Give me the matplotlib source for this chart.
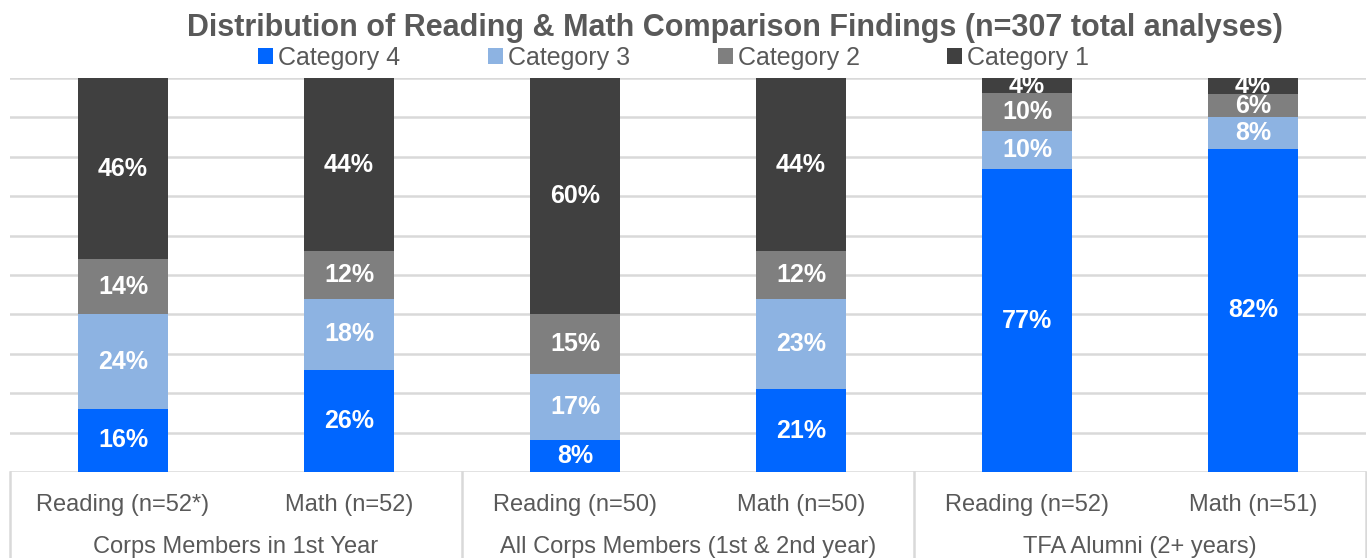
""" Distribution of Reading & Math comparison findings
"""

# Importing the libraries
import matplotlib
matplotlib.use('Agg')
import matplotlib.pyplot as plt
import numpy as np

# Chart data (percent of analyses in each category)
bar_labels = ['Reading (n=52*)', 'Math (n=52)', 'Reading (n=50)', 'Math (n=50)',
              'Reading (n=52)', 'Math (n=51)']
group_labels = ['Corps Members in 1st Year', 'All Corps Members (1st & 2nd year)',
                'TFA Alumni (2+ years)']
series_names = ['Category 4', 'Category 3', 'Category 2', 'Category 1']
category_4 = [16, 26, 8, 21, 76.9, 82]
category_3 = [24, 18, 17, 23, 9.6, 8]
category_2 = [14, 12, 15, 12, 9.6, 6]
category_1 = [46, 44, 60, 44, 3.9, 4]
colors = ['#0066FF', '#8DB3E2', '#7F7F7F', '#404040']


def main():
    plt.rcParams['font.family'] = ['Liberation Sans', 'DejaVu Sans']
    text_grey = '#595959'

    fig = plt.figure(figsize=(13.67, 5.58), dpi=100)
    ax = fig.add_axes([10 / 1367, 86 / 558, 1356 / 1367, 394 / 558])

    x = np.arange(len(bar_labels))
    bottom = np.zeros(len(bar_labels))
    for name, values, color in zip(series_names,
                                   [category_4, category_3, category_2, category_1],
                                   colors):
        bars = ax.bar(x, values, width=0.4, bottom=bottom, color=color,
                      label=name, zorder=3)
        ax.bar_label(bars, labels=['%.0f%%' % v for v in values],
                     label_type='center', color='white', fontsize=18,
                     fontweight='bold', zorder=4)
        bottom = bottom + np.array(values)

    # Grid and axes
    ax.set_xlim(-0.5, len(bar_labels) - 0.5)
    ax.set_ylim(0, 100)
    ax.set_yticks(np.arange(0, 101, 10))
    ax.yaxis.grid(True, color='#D9D9D9', linewidth=1.8, zorder=0)
    ax.tick_params(axis='y', left=False, labelleft=False)
    for spine in ax.spines.values():
        spine.set_visible(False)

    # Two level category axis
    ax.set_xticks(x)
    ax.set_xticklabels(bar_labels, fontsize=17, color=text_grey)
    ax.tick_params(axis='x', length=0, pad=16)
    trans = ax.get_xaxis_transform()
    for i, label in enumerate(group_labels):
        ax.text(2 * i + 0.5, -0.19, label, transform=trans, fontsize=17,
                color=text_grey, ha='center', va='center')
    for xs in [-0.5, 1.5, 3.5, 5.5]:
        ax.plot([xs, xs], [0, -0.3], transform=trans, color='#D9D9D9',
                linewidth=1.8, clip_on=False)

    # Title and legend
    fig.text(735 / 1367, 1 - 28 / 558,
             'Distribution of Reading & Math Comparison Findings (n=307 total analyses)',
             fontsize=22, fontweight='bold', color=text_grey,
             ha='center', va='center')
    ax.legend(loc='center', bbox_to_anchor=(0.4895, 1 + 20 / 394), ncol=4,
              frameon=False, fontsize=18, labelcolor=text_grey,
              handlelength=0.6, handleheight=0.6, handletextpad=0.2,
              columnspacing=3.5, borderpad=0)

    plt.savefig('out.png', dpi=100)


if __name__ == '__main__':
    main()
